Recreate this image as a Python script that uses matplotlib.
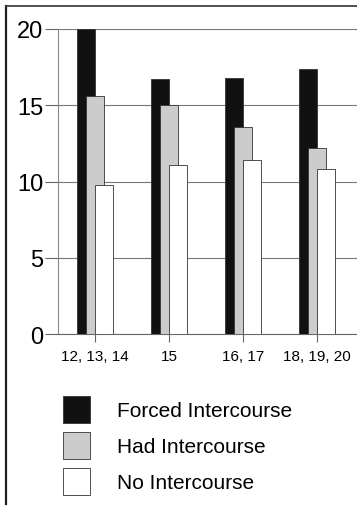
import numpy as np
import matplotlib.pyplot as plt
from matplotlib.patches import Patch
from matplotlib.lines import Line2D

plt.rcParams['font.family'] = ['Liberation Sans', 'DejaVu Sans']

# age groups and percentages
ages = ['12, 13, 14', '15', '16, 17', '18, 19, 20']
forced = [20.0, 16.7, 16.8, 17.4]
had = [15.6, 15.0, 13.6, 12.2]
no_sex = [9.8, 11.1, 11.4, 10.8]
series_names = ['Forced Intercourse', 'Had Intercourse', 'No Intercourse']
series_colors = ['#111111', '#cccccc', '#ffffff']

W, H = 357, 510
fig = plt.figure(figsize=(W / 100, H / 100), dpi=100)
fig.patch.set_facecolor('white')

ax = fig.add_axes([58 / W, 1 - 335 / H, 1 - 58 / W, 305 / H])

x = np.arange(len(ages))
width = 0.25
step = 0.122
for i, (vals, col) in enumerate(zip([forced, had, no_sex], series_colors)):
    ax.bar(x + (i - 1) * step, vals, width, color=col, edgecolor='#333333',
           linewidth=0.6, zorder=3 + i)

ax.set_xlim(-0.5, 3.54)
ax.set_ylim(0, 20)
ax.set_yticks([0, 5, 10, 15, 20])
ax.set_xticks(x)
ax.set_xticklabels(ages, fontsize=11)
ax.tick_params(axis='y', length=9.4, width=0.8, color='#666666', pad=1.2,
               labelsize=17)
ax.tick_params(axis='x', length=5.8, width=0.8, color='#666666', pad=5)
ax.grid(axis='y', color='#777777', linewidth=0.8, zorder=0)
ax.set_axisbelow(True)
for s in ['top', 'right']:
    ax.spines[s].set_visible(False)
ax.spines['left'].set_color('#888888')
ax.spines['left'].set_linewidth(0.8)
ax.spines['bottom'].set_color('#666666')
ax.spines['bottom'].set_linewidth(0.8)

handles = [Patch(facecolor=c, edgecolor='#333333', linewidth=0.6)
           for c in series_colors]
fig.legend(handles, series_names, loc='upper left',
           bbox_to_anchor=(63 / W, 1 - 397 / H), frameon=False,
           fontsize=15, handlelength=1.3, handleheight=1.6,
           handletextpad=1.3, labelspacing=0.45, borderpad=0,
           borderaxespad=0)

# outer frame of the scanned figure
fig.add_artist(Line2D([6 / W, 6 / W], [1 - 7 / H, 1 - 505 / H],
                      transform=fig.transFigure, color='#222222', linewidth=1.6))
fig.add_artist(Line2D([6 / W, 1.0], [1 - 7 / H, 1 - 7 / H],
                      transform=fig.transFigure, color='#333333', linewidth=1.2))

fig.savefig('out.png', dpi=100)
